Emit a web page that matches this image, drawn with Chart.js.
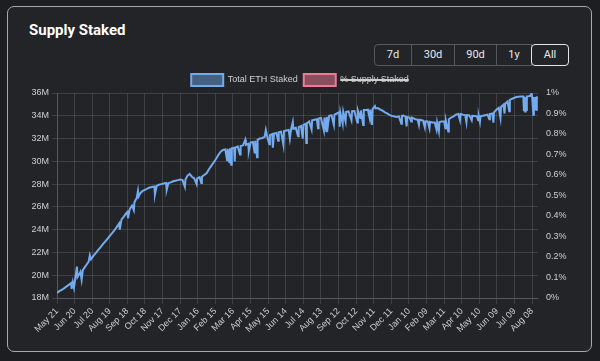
<!DOCTYPE html>
<html><head><meta charset="utf-8">
<script src="https://cdn.jsdelivr.net/npm/chart.js@4.4.1/dist/chart.umd.min.js"></script>
<style>
html,body{margin:0;padding:0;background:#1c1e22;width:600px;height:361px;overflow:hidden;font-family:Roboto,'Liberation Sans',sans-serif;}
#card{position:absolute;left:7px;top:6px;width:585px;height:346px;border:1.5px solid #a8a8a8;border-radius:7px;background:#222428;box-sizing:border-box;}
#title{position:absolute;left:29px;top:20px;font-size:15px;line-height:20px;font-weight:700;color:#fff;}
.btn{position:absolute;top:44px;height:22px;box-sizing:border-box;border:1px solid #55585d;color:#e8e8e8;font-size:11px;line-height:20px;text-align:center;}
#wrap{position:absolute;left:8px;top:68px;width:584px;height:280px;}
</style></head>
<body>
<div id="card"></div>
<div id="title">Supply Staked</div>
<div class="btn" style="left:374px;width:38px;border-radius:4px 0 0 4px;">7d</div>
<div class="btn" style="left:411px;width:44px;">30d</div>
<div class="btn" style="left:454px;width:43px;">90d</div>
<div class="btn" style="left:496px;width:36px;">1y</div>
<div class="btn" style="left:531px;width:38px;border-color:#e4e4e4;border-radius:4px;">All</div>
<div id="wrap"><canvas id="c"></canvas></div>
<script>
// x tick labels (every 30th day starting at May 21)
const xTickLabels = ['May 21','Jun 20','Jul 20','Aug 19','Sep 18','Oct 18','Nov 17','Dec 17','Jan 16','Feb 15','Mar 16','Apr 15','May 15','Jun 14','Jul 14','Aug 13','Sep 12','Oct 12','Nov 11','Dec 11','Jan 10','Feb 09','Mar 11','Apr 10','May 10','Jun 09','Jul 09','Aug 08'];
// day index since May 21
const dayIndex = [0,4,8,12,16,20,24,25,27,29,31,34,35,38,40,42,44,48,50,54,56,58,62,66,70,74,78,82,86,90,94,98,102,106,107,110,114,118,120,121,124,128,131,132,136,138,139,142,146,150,154,158,162,166,167,170,174,178,182,186,187,190,194,198,202,206,210,214,218,219,222,226,230,234,238,239,243,246,247,251,255,259,263,267,271,275,279,283,287,290,291,294,295,297,298,302,303,304,308,312,313,317,321,322,326,327,330,334,337,338,341,342,346,350,354,356,358,362,363,367,368,370,374,377,378,382,386,387,391,395,397,399,402,403,407,411,412,416,419,420,424,425,426,430,434,435,439,443,445,446,450,455,456,459,460,462,464,468,472,473,477,481,482,483,487,488,492,493,497,502,503,507,512,513,517,518,522,523,527,530,533,534,537,538,542,543,547,551,555,559,562,566,570,574,579,583,587,588,590,594,596,597,601,604,605,607,611,615,617,618,622,624,627,628,632,635,636,640,644,647,648,651,652,656,660,662,663,667,668,672,676,680,684,687,688,692,696,698,699,703,707,708,712,716,718,719,721,722,726,730,734,737,738,742,744,745,749,753,756,757,761,763,764,768,771,772,776,780,783,787,791,795,796,797,798,799,800,801,804,807,809,810,812,813,815,816,817,818,820];
// Total ETH staked, millions
const stakedM = [18.44,18.6,18.72,18.85,19.0,19.15,19.3,18.8,19.4,18.9,19.65,20.75,19.85,20.1,20.3,19.6,20.45,20.75,20.9,21.2,21.75,21.4,21.7,21.95,22.2,22.45,22.7,22.95,23.2,23.45,23.7,23.95,24.25,24.55,24.0,24.9,25.15,25.45,25.55,25.0,25.8,26.1,25.7,26.4,26.8,27.4,26.9,27.2,27.4,27.5,27.6,27.7,27.75,27.8,27.1,27.85,27.95,28.0,28.05,28.1,27.5,28.1,28.15,28.25,28.3,28.35,28.4,28.35,27.75,28.4,28.7,28.9,28.65,28.5,28.0,28.5,28.6,28.1,28.65,28.8,28.95,29.3,29.6,29.9,30.2,30.55,30.85,31.0,31.05,30.1,31.1,29.85,31.15,29.7,31.15,31.2,30.0,31.2,31.3,30.6,31.35,31.4,31.9,31.45,31.55,30.9,31.65,31.7,30.7,31.8,30.35,31.9,32.0,32.05,32.15,32.75,32.25,31.5,32.3,32.4,31.2,32.45,32.5,31.8,32.55,32.6,31.45,32.65,32.7,32.75,32.0,32.8,33.45,32.85,32.95,32.2,33.0,33.1,32.0,33.2,33.3,31.6,33.35,33.5,32.8,33.6,33.65,33.7,32.9,33.75,33.8,32.7,33.85,32.65,33.9,33.2,34.0,34.05,33.2,34.1,34.2,34.3,33.05,34.3,33.3,34.35,33.5,34.35,34.38,33.6,34.4,34.42,33.4,34.45,33.8,34.47,33.2,34.5,34.5,34.53,33.8,34.55,33.2,34.6,34.85,34.65,34.68,34.55,34.45,34.3,34.24,34.1,34.0,33.95,33.9,33.95,33.3,34.0,34.03,33.95,33.07,33.9,33.85,33.5,33.85,33.8,33.7,33.65,33.2,33.65,33.6,33.57,32.98,33.52,33.5,32.9,33.47,33.42,33.42,32.8,33.42,32.63,33.45,33.5,33.52,32.9,33.55,32.63,33.7,33.85,33.95,34.1,34.15,33.6,34.16,34.1,34.05,33.45,34.05,34.03,33.6,34.0,33.98,33.95,33.6,33.95,33.45,33.95,34.0,34.05,34.1,33.7,34.16,34.2,33.4,34.3,34.53,34.7,33.8,34.8,34.97,34.2,35.05,35.25,34.4,35.4,35.5,35.58,35.65,35.68,35.7,35.7,34.4,35.65,34.38,35.6,34.5,35.7,35.72,35.75,35.98,35.7,34.1,35.65,34.6,35.65,34.53,35.62,35.61];
// % Supply Staked series is hidden in the chart (no visible values)
const supplyPct = [];

Chart.defaults.font.family = "'Liberation Sans', Arial, sans-serif";
Chart.defaults.font.size = 9;
Chart.defaults.color = '#cfcfcf';

const gridColor = 'rgba(255,255,255,0.13)';
const legendHeightFix = {
  id: 'legendHeightFix',
  beforeLayout(chart) {
    const lg = chart.legend;
    if (lg && !lg.__fixed) {
      const orig = lg.fit.bind(lg);
      lg.fit = function(){ orig(); this.height = 25; };
      lg.__fixed = true;
    }
  }
};

new Chart(document.getElementById('c'), {
  type: 'line',
  data: {
    datasets: [
      {
        label: 'Total ETH Staked',
        data: dayIndex.map((d, i) => ({x: d, y: stakedM[i]})),
        borderColor: '#74aaee',
        backgroundColor: 'rgba(116,170,238,0.45)',
        borderWidth: 2,
        pointRadius: 0,
        tension: 0,
        yAxisID: 'y'
      },
      {
        label: '% Supply Staked',
        data: supplyPct,
        borderColor: '#ef7a93',
        backgroundColor: 'rgba(239,122,147,0.5)',
        borderWidth: 2,
        pointRadius: 0,
        hidden: true,
        yAxisID: 'y1'
      }
    ]
  },
  options: {
    responsive: true,
    maintainAspectRatio: false,
    animation: false,
    devicePixelRatio: 1,
    layout: {padding: 0},
    plugins: {
      legend: {
        labels: {boxWidth: 32, boxHeight: 12, padding: 6, color: '#cfcfcf', font: {size: 9}}
      },
      tooltip: {enabled: false}
    },
    scales: {
      x: {
        type: 'linear',
        min: 0,
        max: 820,
        grid: {color: gridColor, tickLength: 6},
        border: {color: gridColor},
        ticks: {
          stepSize: 30,
          autoSkip: false,
          includeBounds: false,
          minRotation: 45,
          maxRotation: 45,
          padding: 2,
          callback: (v) => xTickLabels[Math.round(v / 30)] ?? ''
        },
        afterFit: (s) => { s.height = 50; }
      },
      y: {
        position: 'left',
        min: 18,
        max: 36,
        grid: {color: gridColor, tickLength: 5},
        border: {color: gridColor},
        ticks: {stepSize: 2, padding: 3, callback: (v) => v + 'M'},
        afterFit: (s) => { s.width = 49; }
      },
      y1: {
        position: 'right',
        min: 0,
        max: 1,
        grid: {display: false},
        border: {display: false},
        ticks: {stepSize: 0.1, padding: 0, callback: (v) => (Math.round(v * 10) / 10) + '%'},
        afterFit: (s) => { s.width = 54; }
      }
    }
  },
  plugins: [legendHeightFix]
});
</script>
</body></html>
